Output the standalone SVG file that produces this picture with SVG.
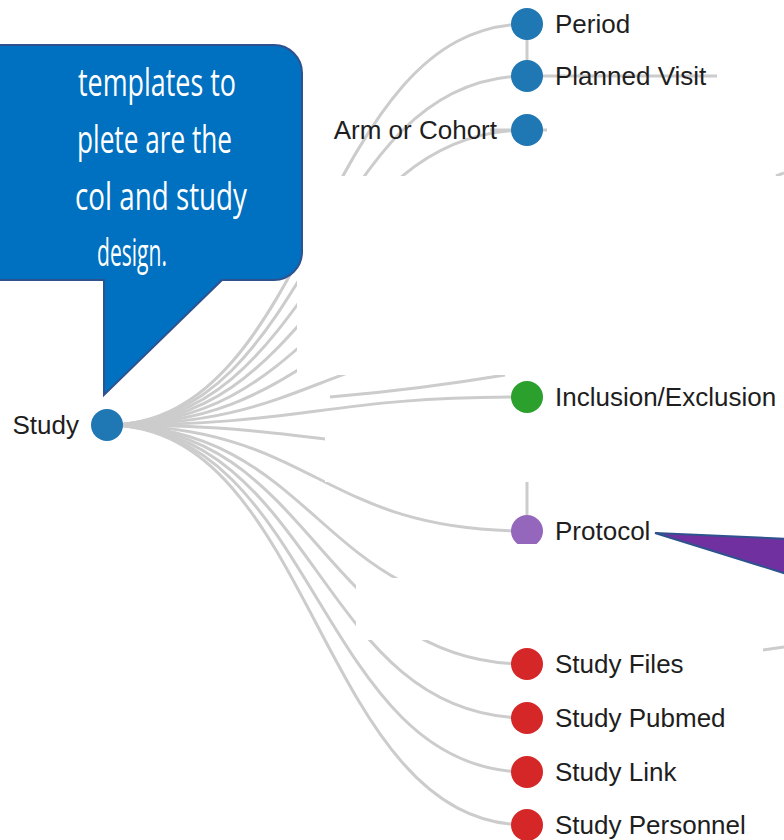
<svg xmlns="http://www.w3.org/2000/svg" width="784" height="840" viewBox="0 0 784 840">
<style>
.link{fill:none;stroke:#cccccc;stroke-width:3}
.cover{fill:#ffffff}
.lbl{font-family:"Liberation Sans",Arial,sans-serif;font-size:26px;fill:#1e1e1e}
.co{font-family:"Open Sans","Noto Sans",sans-serif;font-size:38px;fill:#ffffff}
.blue{fill:#1f77b4}.green{fill:#2ca02c}.purple{fill:#9467bd}.red{fill:#d62728}
</style>
<defs>
<clipPath id="protoClip"><rect x="480" y="480" width="100" height="64"/></clipPath>
</defs>
<rect width="784" height="840" fill="#ffffff"/>
<g id="connectors">
<path class="link" d="M107,425C317,425 317,24 527,24"/>
<path class="link" d="M107,425C317,425 317,76 527,76"/>
<path class="link" d="M107,425C317,425 317,130 527,130"/>
<path class="link" d="M107,425C317,425 317,184 527,184"/>
<path class="link" d="M107,425C317,425 317,238 527,238"/>
<path class="link" d="M107,425C317,425 317,291 527,291"/>
<path class="link" d="M107,425C317,425 317,344 527,344"/>
<path class="link" d="M107,425C317,425 317,397 527,397"/>
<path class="link" d="M107,425C317,425 317,451 527,451"/>
<path class="link" d="M107,425C317,425 317,531 527,531"/>
<path class="link" d="M107,425C317,425 317,611 527,611"/>
<path class="link" d="M107,425C317,425 317,664 527,664"/>
<path class="link" d="M107,425C317,425 317,718 527,718"/>
<path class="link" d="M107,425C317,425 317,772 527,772"/>
<path class="link" d="M107,425C317,425 317,825 527,825"/>
<path class="link" d="M527,24V76"/>
<path class="link" d="M527,76H717"/>
<path class="link" d="M490,130H547"/>
<path class="link" d="M330,397C390,392 445,385 505,375"/>
<path class="link" d="M527,482V515"/>
<path class="link" d="M776,176L784,173"/>
<path class="link" d="M763,650L784,647"/>
</g>
<g id="covers">
<rect class="cover" x="297" y="176" width="487" height="199"/>
<rect class="cover" x="325" y="437" width="459" height="45"/>
<rect class="cover" x="356" y="578" width="428" height="62"/>
<rect class="cover" x="420" y="544" width="364" height="34"/>
</g>
<g id="node-study"><circle class="blue" cx="107" cy="425" r="16"/><text class="lbl" x="79" y="434" text-anchor="end">Study</text></g>
<g id="node-period"><circle class="blue" cx="527" cy="24" r="16"/><text class="lbl" x="555" y="33">Period</text></g>
<g id="node-planned-visit"><circle class="blue" cx="527" cy="76" r="16"/><text class="lbl" x="555" y="85">Planned Visit</text></g>
<g id="node-arm"><circle class="blue" cx="527" cy="130" r="16"/><text class="lbl" x="497" y="139" text-anchor="end">Arm or Cohort</text></g>
<g id="node-inclusion"><circle class="green" cx="527" cy="397" r="16"/><text class="lbl" x="555" y="406">Inclusion/Exclusion</text></g>
<g id="node-protocol"><circle class="purple" cx="527" cy="531" r="16" clip-path="url(#protoClip)"/><text class="lbl" x="555" y="540">Protocol</text></g>
<g id="node-files"><circle class="red" cx="527" cy="664" r="16"/><text class="lbl" x="555" y="673">Study Files</text></g>
<g id="node-pubmed"><circle class="red" cx="527" cy="718" r="16"/><text class="lbl" x="555" y="727">Study Pubmed</text></g>
<g id="node-link"><circle class="red" cx="527" cy="772" r="16"/><text class="lbl" x="555" y="781">Study Link</text></g>
<g id="node-personnel"><circle class="red" cx="527" cy="825" r="16"/><text class="lbl" x="555" y="834">Study Personnel</text></g>
<g id="callout-blue">
<path d="M-170,45H274A28,28 0 0 1 302,73V252A28,28 0 0 1 274,280H222L104,395V280H-170Z" fill="#0070c0" stroke="#2f528f" stroke-width="2"/>
<text class="co" x="78" y="96" textLength="158" lengthAdjust="spacingAndGlyphs">templates to</text>
<text class="co" x="77" y="153" textLength="155" lengthAdjust="spacingAndGlyphs">plete are the</text>
<text class="co" x="75" y="210" textLength="172" lengthAdjust="spacingAndGlyphs">col and study</text>
<text class="co" x="97" y="266" textLength="70" lengthAdjust="spacingAndGlyphs">design.</text>
</g>
<g id="callout-purple">
<path d="M655,533L790,539L790,575Z" fill="#7030a0" stroke="#2f528f" stroke-width="2"/>
</g>
</svg>
